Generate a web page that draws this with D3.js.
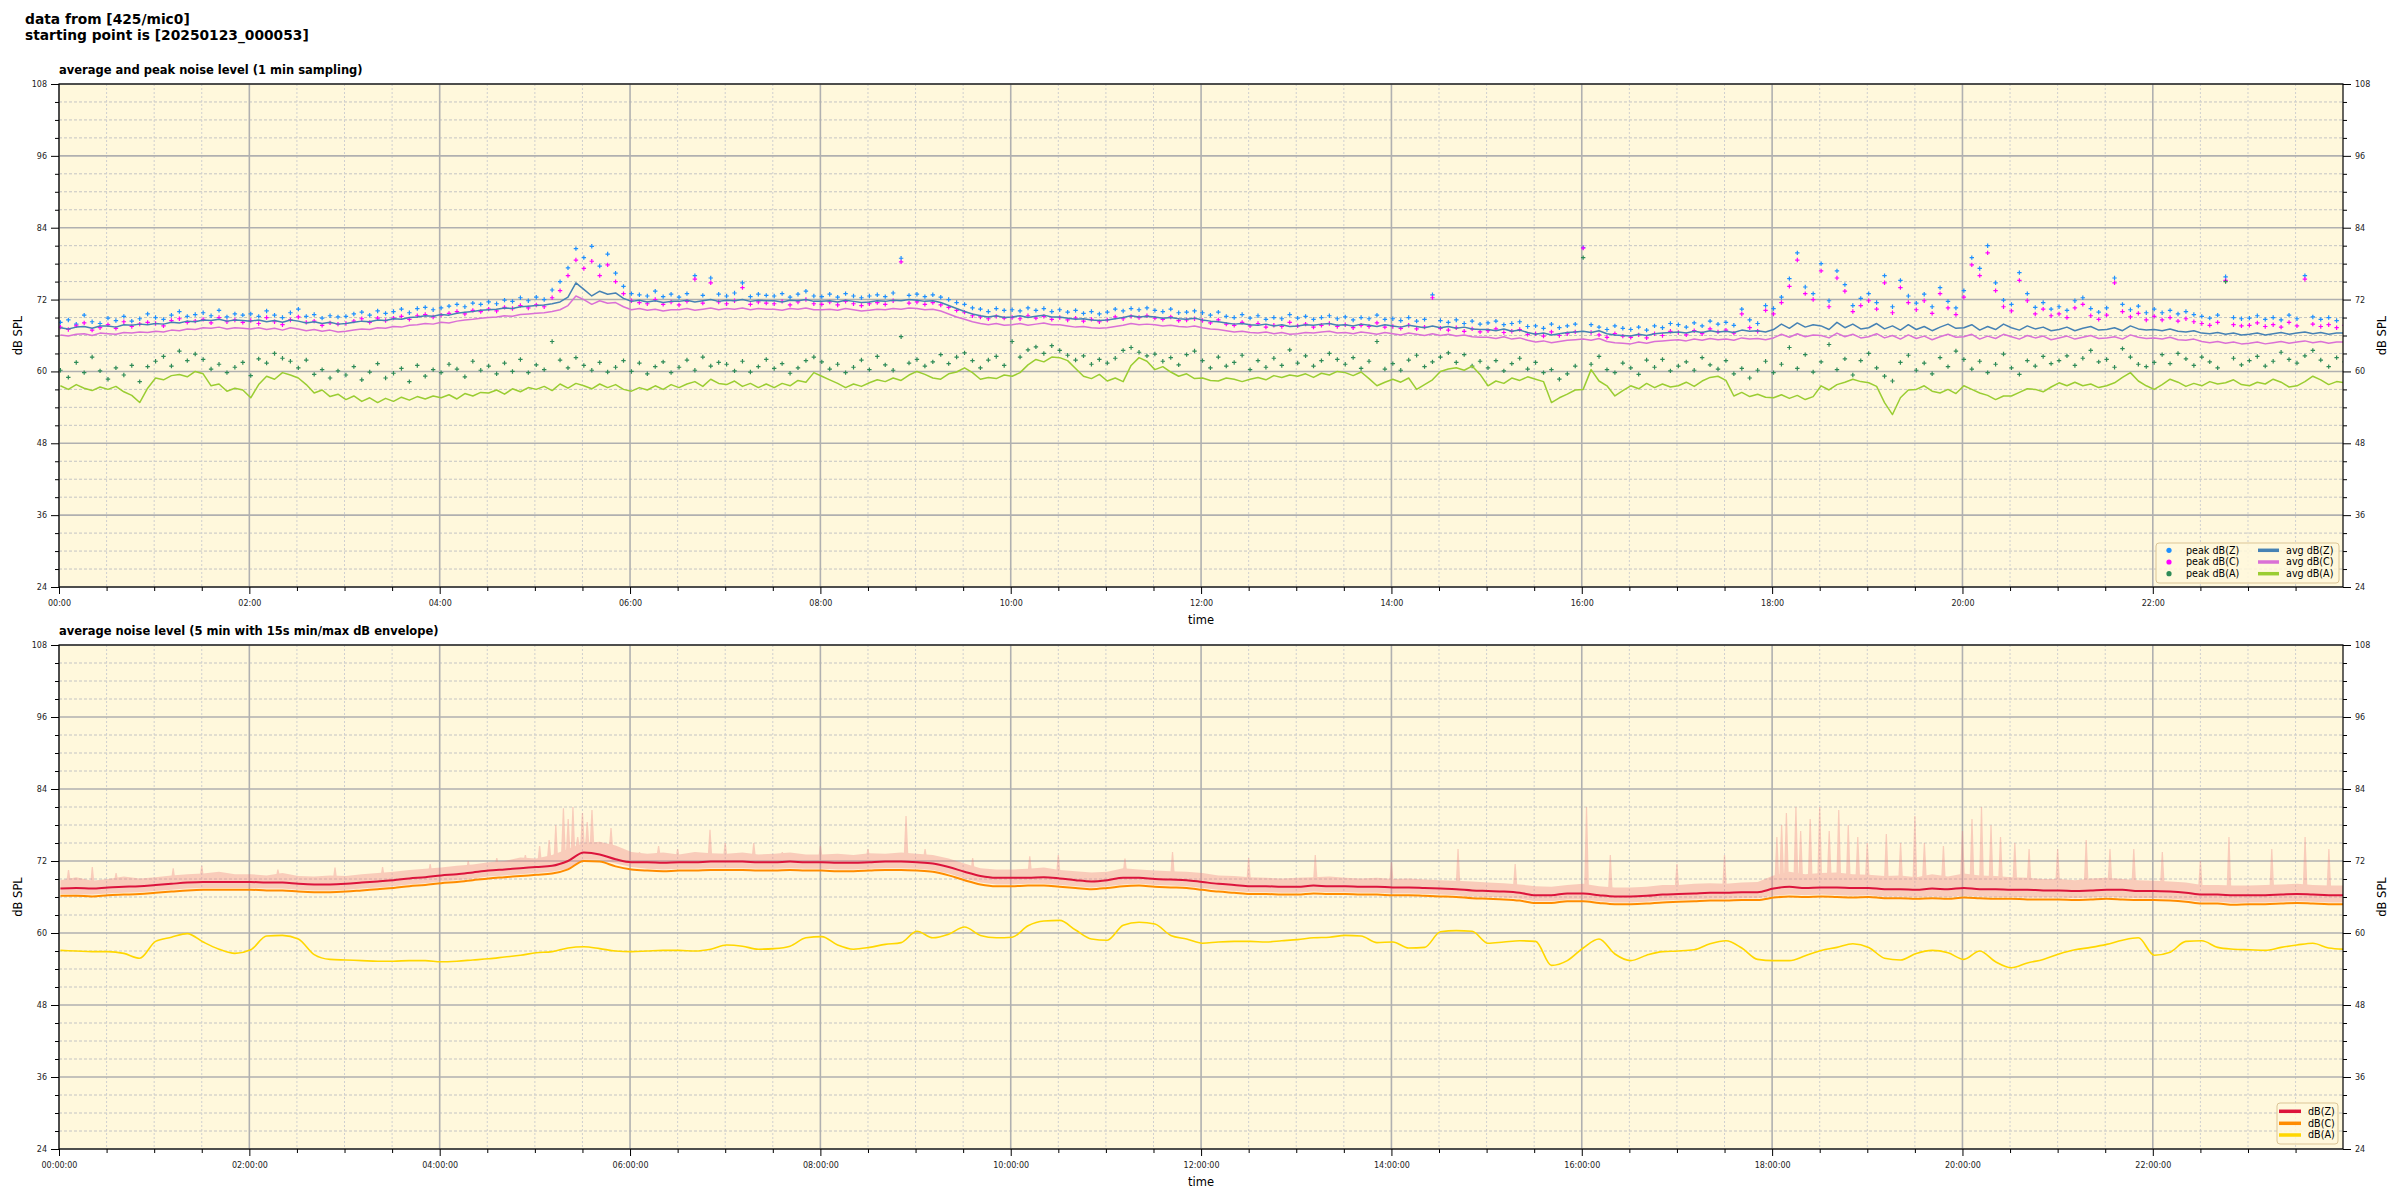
<!DOCTYPE html>
<html><head><meta charset="utf-8">
<script src="https://cdn.jsdelivr.net/npm/d3@7"></script>
<style>
body{margin:0;background:#fff}
svg{display:block}
text{font-family:"DejaVu Sans",sans-serif}
</style>
</head><body>
<svg id="c" width="2400" height="1200"></svg>
<script>
// ---------- DATA ----------
const suptitleLines = ["data from [425/mic0]", "starting point is [20250123_000053]"];
const topTitle = "average and peak noise level (1 min sampling)";
const botTitle = "average noise level (5 min with 15s min/max dB envelope)";
const yTicks = [24, 36, 48, 60, 72, 84, 96, 108];
const xTickMinutes = [0, 120, 240, 360, 480, 600, 720, 840, 960, 1080, 1200, 1320];
const topLegend = ["peak dB(Z)", "peak dB(C)", "peak dB(A)", "avg dB(Z)", "avg dB(C)", "avg dB(A)"];
const botLegend = ["dB(Z)", "dB(C)", "dB(A)"];
const sampleStartMin = 0.88;   // 00:00:53
const topStepMin = 5;          // top panel values every 5 minutes
const botStepMin = 10;         // bottom panel values every 10 minutes

// top panel: average levels (one value per 5 min, 00:00 .. 24:00)
const avgZ = [
67.3,67.1,67.4,67.5,67.2,67.6,67.6,67.4,67.8,67.7,67.9,67.8,
68.0,67.9,68.2,68.1,68.4,68.3,68.6,68.5,68.7,68.4,68.6,68.5,
68.4,68.6,68.3,68.5,68.2,68.6,68.4,68.1,68.3,68.0,68.2,67.9,
68.0,68.2,68.4,68.3,68.6,68.5,68.8,68.7,69.0,69.1,69.3,69.2,
69.5,69.4,69.7,69.9,70.0,70.2,70.3,70.4,70.6,70.5,70.8,70.9,
71.0,71.1,71.3,71.6,72.4,74.8,73.7,72.6,73.4,72.9,73.1,72.2,
71.7,71.9,71.6,71.8,71.5,71.7,71.7,71.9,71.6,71.8,72.0,71.7,
71.9,71.8,72.0,71.7,71.9,71.8,71.8,71.6,71.9,71.8,72.0,71.7,
71.7,71.8,71.6,71.9,71.7,71.5,71.6,71.8,71.7,71.9,71.8,72.0,
71.9,71.7,71.8,71.5,71.0,70.5,70.0,69.6,69.3,69.1,69.3,69.0,
69.1,69.3,69.0,69.2,69.4,69.1,69.1,68.9,68.7,68.8,68.6,68.5,
68.6,68.8,69.0,69.3,69.1,69.2,69.1,68.9,69.0,68.8,68.7,68.9,
68.6,68.4,68.3,68.1,67.9,68.0,67.8,67.7,67.9,67.6,67.8,67.5,
67.6,67.8,67.7,67.9,68.0,67.7,67.8,67.6,67.9,67.7,67.5,67.8,
67.6,67.4,67.7,67.5,67.3,67.6,67.3,67.5,67.2,67.4,67.1,67.0,
67.0,66.8,67.1,66.7,66.9,66.5,66.2,66.4,66.1,66.3,66.5,66.6,
66.7,66.5,66.8,66.3,66.1,66.0,65.9,66.2,66.0,66.3,66.4,66.5,
66.6,66.4,66.7,66.5,66.8,66.6,66.7,66.5,66.9,66.7,66.8,66.6,
67.0,67.9,67.2,68.1,67.4,67.8,67.6,67.0,68.2,67.3,67.9,67.1,
67.3,68.0,67.1,67.6,66.9,67.8,67.0,67.5,66.8,67.4,67.9,67.2,
67.3,67.8,66.9,67.5,67.0,67.9,67.3,66.9,67.6,67.1,67.4,66.8,
67.0,67.4,66.8,67.2,67.5,66.9,67.0,67.3,66.8,67.6,67.1,66.9,
67.0,66.8,67.1,66.7,66.6,66.8,66.4,66.3,66.5,66.2,66.4,66.1,
66.2,66.4,66.1,66.3,66.5,66.2,66.4,66.6,66.3,66.5,66.2,66.4,
66.4];
const avgC = [
66.1,65.9,66.2,66.3,66.0,66.4,66.3,66.2,66.5,66.4,66.6,66.5,
66.7,66.6,66.9,66.8,67.1,67.0,67.3,67.2,67.4,67.1,67.3,67.2,
67.1,67.3,67.0,67.2,66.9,67.3,67.1,66.8,67.0,66.7,66.9,66.6,
66.7,66.9,67.1,67.0,67.3,67.2,67.5,67.4,67.7,67.8,68.0,67.9,
68.2,68.1,68.4,68.6,68.7,68.9,69.0,69.1,69.3,69.2,69.5,69.6,
69.7,69.8,70.0,70.3,71.0,72.6,72.0,71.2,71.8,71.4,71.5,70.8,
70.3,70.5,70.2,70.4,70.1,70.3,70.3,70.5,70.2,70.4,70.6,70.3,
70.5,70.4,70.6,70.3,70.5,70.4,70.4,70.2,70.5,70.4,70.6,70.3,
70.3,70.4,70.2,70.5,70.3,70.1,70.2,70.4,70.3,70.5,70.4,70.6,
70.5,70.3,70.4,70.1,69.6,69.1,68.7,68.3,68.0,67.8,68.0,67.7,
67.8,68.0,67.7,67.9,68.1,67.8,67.8,67.6,67.4,67.5,67.3,67.2,
67.3,67.5,67.7,68.0,67.8,67.9,67.8,67.6,67.7,67.5,67.4,67.6,
67.3,67.1,67.0,66.8,66.6,66.7,66.5,66.4,66.6,66.3,66.5,66.2,
66.3,66.5,66.4,66.6,66.7,66.4,66.5,66.3,66.6,66.4,66.2,66.5,
66.3,66.1,66.4,66.2,66.0,66.3,66.0,66.2,65.9,66.1,65.8,65.7,
65.7,65.5,65.8,65.4,65.6,65.2,64.9,65.1,64.8,65.0,65.2,65.3,
65.4,65.2,65.5,65.0,64.8,64.7,64.6,64.9,64.7,65.0,65.1,65.2,
65.3,65.1,65.4,65.2,65.5,65.3,65.4,65.2,65.6,65.4,65.5,65.3,
65.6,66.2,65.7,66.3,65.8,66.1,66.0,65.6,66.4,65.8,66.2,65.6,
65.8,66.3,65.6,66.0,65.4,66.1,65.5,65.9,65.3,65.8,66.2,65.7,
65.8,66.2,65.4,65.9,65.5,66.2,65.8,65.4,66.0,65.6,65.9,65.3,
65.6,65.9,65.4,65.7,66.0,65.5,65.6,65.8,65.4,66.1,65.7,65.5,
65.6,65.4,65.7,65.3,65.2,65.4,65.0,64.8,65.0,64.7,64.9,64.6,
64.7,64.9,64.6,64.8,65.0,64.7,64.9,65.1,64.8,65.0,64.7,64.9,
64.9];
const avgA = [
57.6,57.0,57.8,57.2,56.8,57.4,57.0,57.5,56.6,56.0,54.8,57.2,
58.9,58.6,59.3,59.5,59.1,60.0,59.6,57.6,57.9,56.7,57.2,56.9,
55.6,57.8,59.2,58.7,59.8,59.4,58.9,57.8,56.4,56.9,55.8,56.2,
55.3,55.9,55.0,55.6,54.8,55.5,55.0,55.7,55.2,55.8,55.4,55.9,
55.6,56.1,55.4,56.3,55.9,56.5,56.4,56.9,56.2,57.1,56.6,57.3,
57.0,57.5,56.8,57.9,57.2,58.0,57.6,57.1,57.9,57.3,57.8,57.0,
56.7,57.3,56.9,57.6,57.0,57.8,57.3,57.9,58.3,57.5,58.7,58.0,
57.8,58.4,57.5,58.0,57.3,57.9,57.3,58.0,57.6,58.5,58.2,59.8,
59.2,58.6,58.0,57.3,57.9,57.5,58.1,58.6,58.3,58.9,58.5,59.4,
60.0,59.5,58.9,58.7,59.6,59.9,60.6,59.8,58.7,59.0,58.8,59.4,
59.2,59.8,61.1,62.0,61.6,62.4,62.3,61.8,60.5,59.2,58.8,59.5,
58.4,58.9,58.3,61.0,62.3,61.7,60.3,60.8,59.9,59.2,59.6,58.8,
58.9,58.5,58.4,58.9,58.7,58.3,58.7,59.0,58.6,59.3,59.0,59.4,
59.2,59.6,59.0,59.7,59.4,60.0,59.8,59.3,59.9,58.8,57.6,58.2,
58.7,58.2,58.9,57.0,57.8,58.6,60.0,60.4,60.6,60.2,60.9,59.5,
57.6,58.4,58.0,58.9,58.5,59.1,58.7,58.3,54.8,55.6,56.2,56.9,
57.0,60.3,58.4,57.6,55.9,56.8,57.6,57.1,58.0,57.3,57.9,57.4,
57.6,58.2,57.5,58.4,59.0,59.2,58.5,55.9,56.5,55.8,56.2,55.7,
55.6,56.1,55.5,56.0,55.3,55.8,57.6,56.9,57.8,58.2,58.7,58.3,
58.1,57.5,54.8,52.8,55.6,56.9,57.0,57.6,56.7,56.4,57.0,56.3,
57.6,57.0,56.4,56.0,55.3,55.9,55.9,56.5,57.1,57.0,56.6,57.4,
58.1,57.6,58.2,57.6,57.9,57.3,57.6,58.1,59.0,59.8,58.4,57.6,
57.0,57.8,58.7,58.2,57.5,58.0,57.6,58.3,57.9,58.1,58.6,57.8,
57.6,58.2,57.9,58.7,58.2,57.4,57.6,58.3,59.2,58.6,57.8,58.3,
58.1];
// top panel: peak levels (one value per 5 min)
const peakZ = [
68.2,68.6,67.9,69.4,68.3,68.0,68.9,68.5,69.2,68.4,68.8,69.6,
69.0,68.7,69.4,70.0,69.2,69.5,69.8,69.3,70.2,69.1,69.6,69.4,
69.6,69.2,70.1,69.4,69.0,69.8,70.4,69.2,69.5,68.9,69.3,69.1,
69.2,69.6,69.9,69.4,70.1,69.7,70.0,70.4,69.8,70.5,70.7,70.3,
70.6,70.9,71.2,70.8,71.4,71.2,71.6,71.3,71.9,71.7,72.3,71.8,
72.4,72.0,73.6,75.0,77.3,80.5,79.0,80.9,77.6,79.6,76.4,74.2,
73.0,72.8,72.6,73.4,72.5,72.9,72.4,73.0,76.0,72.7,75.6,72.9,
72.6,73.1,74.8,72.5,72.9,72.7,72.6,73.0,72.4,72.9,73.4,72.6,
72.5,72.9,72.4,73.0,72.6,72.3,72.6,72.8,72.5,73.1,78.9,72.7,
72.9,72.5,72.8,72.4,72.0,71.5,71.2,70.6,70.4,70.0,70.5,70.2,
70.3,70.1,70.6,70.2,70.5,70.0,70.3,69.9,70.2,69.7,70.0,69.6,
69.9,70.4,70.1,70.5,70.3,70.6,70.2,70.0,70.4,69.8,69.9,70.1,
69.8,69.4,69.9,69.2,69.0,69.5,68.9,69.3,68.7,69.0,68.8,69.5,
68.9,69.2,68.7,69.0,69.3,68.8,69.1,68.6,69.0,68.8,69.4,68.7,
68.8,68.5,69.0,68.4,68.7,72.8,68.5,68.2,68.6,68.0,68.4,67.9,
68.1,68.4,67.8,68.0,68.3,67.5,67.6,67.2,67.9,67.3,67.6,67.9,
80.7,67.8,67.4,67.0,67.6,67.2,67.0,67.4,66.9,67.6,67.3,68.0,
67.8,67.4,68.1,67.6,68.4,67.9,68.2,67.7,70.4,68.6,68.0,71.0,
70.5,72.4,75.5,79.8,74.1,73.0,78.0,71.8,76.8,74.5,71.0,72.2,
73.0,71.5,76.0,70.8,75.2,72.6,71.4,72.9,70.8,74.0,71.7,70.6,
73.5,79.0,77.2,81.0,74.8,71.9,71.2,76.5,73.0,70.7,71.5,70.4,
70.8,70.2,71.8,72.3,70.5,69.9,70.6,75.6,71.2,70.3,70.9,69.8,
70.4,69.8,70.2,69.6,70.0,69.5,69.2,68.9,69.4,75.8,69.0,68.8,
68.9,69.3,68.7,69.0,68.6,69.4,68.8,76.0,69.1,68.7,69.0,68.5,
68.9];
const peakC = [
67.4,67.0,67.6,68.1,66.9,67.3,67.8,67.2,68.3,67.5,67.9,68.2,
68.0,67.6,68.5,68.8,68.2,68.4,68.7,68.1,69.0,68.3,68.6,68.2,
68.5,68.0,69.0,68.3,67.8,68.6,69.1,68.2,68.4,67.7,68.1,67.9,
68.0,68.4,68.8,68.2,68.9,68.5,68.9,69.2,68.7,69.3,69.5,69.1,
69.4,69.7,70.0,69.6,70.2,70.0,70.4,70.1,70.7,70.5,71.0,70.6,
71.1,70.8,72.3,73.5,76.0,78.6,77.2,78.4,76.0,77.8,75.0,73.0,
71.8,71.5,71.3,72.0,71.2,71.6,71.1,71.7,75.4,71.4,74.8,71.6,
71.3,71.8,74.0,71.2,71.6,71.4,71.3,71.7,71.1,71.6,72.0,71.3,
71.2,71.6,71.1,71.7,71.3,71.0,71.3,71.5,71.2,71.8,78.3,71.4,
71.6,71.2,71.5,71.1,70.7,70.2,69.9,69.3,69.1,68.8,69.2,68.9,
69.0,68.8,69.3,68.9,69.2,68.7,69.0,68.6,68.9,68.4,68.7,68.3,
68.6,69.1,68.8,69.2,69.0,69.3,68.9,68.7,69.1,68.5,68.6,68.8,
68.5,68.1,68.6,67.9,67.7,68.2,67.6,68.0,67.4,67.7,67.5,68.2,
67.6,67.9,67.4,67.7,68.0,67.5,67.8,67.3,67.7,67.5,68.1,67.4,
67.5,67.2,67.7,67.1,67.4,72.3,67.2,66.9,67.3,66.7,67.1,66.6,
66.8,67.1,66.5,66.7,67.0,66.2,66.3,65.9,66.6,66.0,66.3,66.6,
80.6,66.5,66.1,65.7,66.3,65.9,65.7,66.1,65.6,66.3,66.0,66.7,
66.5,66.1,66.8,66.3,67.1,66.6,66.9,66.4,69.6,67.3,66.7,70.2,
69.6,71.5,74.2,78.6,73.0,72.0,76.8,70.8,75.6,73.4,70.0,71.0,
71.8,70.4,74.8,69.8,74.0,71.5,70.3,71.8,69.7,73.0,70.6,69.5,
72.4,77.8,76.0,79.8,73.5,70.8,70.1,75.2,71.8,69.6,70.4,69.3,
69.6,69.0,70.6,71.2,69.3,68.7,69.4,74.8,70.0,69.1,69.7,68.6,
69.2,68.6,69.0,68.4,68.8,68.3,68.0,67.7,68.2,75.2,67.8,67.6,
67.7,68.1,67.5,67.8,67.4,68.2,67.6,75.4,67.9,67.5,67.8,67.3,
67.7];
const peakA = [
60.2,59.0,61.5,59.8,62.4,60.1,58.7,60.6,59.4,61.0,58.3,60.8,
61.7,62.5,60.9,63.4,61.8,62.9,62.0,60.4,61.2,59.8,60.7,61.5,
59.3,62.1,61.4,63.0,62.2,61.7,60.6,61.9,59.5,60.3,58.9,60.1,
59.4,60.8,58.6,59.9,61.3,58.9,59.7,60.5,58.3,61.0,59.2,60.3,
59.8,61.2,60.4,59.1,61.7,60.2,60.9,59.6,61.4,60.0,62.0,59.8,
61.1,60.3,65.0,61.9,60.6,62.3,61.0,60.2,61.5,59.9,60.7,61.8,
60.0,61.4,59.6,60.8,61.6,59.8,60.7,61.9,60.2,62.4,60.9,61.5,
61.2,60.1,61.7,59.9,60.8,62.0,60.5,61.3,59.7,60.6,61.8,62.4,
61.6,60.4,61.2,59.8,60.7,61.9,60.3,62.5,61.1,60.2,65.8,61.4,
62.0,60.9,61.6,62.8,61.3,62.4,63.1,61.8,60.6,61.9,62.5,61.0,
65.0,62.4,63.6,64.1,63.0,64.3,63.5,62.7,61.9,62.6,61.2,62.0,
61.4,62.2,63.5,64.0,63.2,62.6,62.9,61.7,62.3,61.1,62.8,63.4,
61.8,60.6,62.4,60.9,61.5,62.7,60.3,61.8,60.7,62.2,61.0,63.6,
61.4,62.6,60.9,61.8,63.0,62.0,61.2,62.3,60.5,61.7,65.0,60.4,
61.3,60.2,61.9,62.7,60.8,61.6,62.4,63.1,61.5,62.8,60.9,61.7,
60.6,61.8,60.1,61.3,62.2,60.4,61.5,59.8,60.3,58.7,59.6,60.9,
79.0,61.2,62.5,60.3,59.8,61.4,60.6,59.5,61.9,60.7,62.0,60.1,
60.9,61.6,60.2,62.3,61.1,60.4,61.8,59.6,60.5,58.9,60.2,61.7,
59.8,61.2,64.0,60.5,62.8,59.9,61.6,64.5,60.3,62.1,59.4,61.8,
63.0,60.6,59.2,58.4,61.5,62.7,60.2,61.4,59.6,62.3,60.8,63.4,
62.0,60.4,61.7,59.8,61.2,62.9,60.6,59.5,61.8,60.9,62.5,61.3,
61.8,62.6,61.0,62.2,63.5,61.6,62.0,60.7,63.8,62.4,61.2,60.8,
61.5,62.8,61.3,63.0,62.1,61.0,62.4,61.6,60.6,75.0,62.2,61.1,
61.8,62.5,60.9,61.7,63.2,62.0,61.4,62.6,63.5,61.9,60.8,62.3,
61.6];

// bottom panel: 5-min averages (one value per 10 min)
const botZ = [
67.4,67.5,67.4,67.6,67.7,67.8, 68.0,68.2,68.4,68.5,68.5,68.5,
68.5,68.4,68.4,68.2,68.1,68.1, 68.2,68.4,68.6,68.8,69.1,69.3,
69.6,69.8,70.1,70.4,70.6,70.8, 71.0,71.2,72.0,73.4,73.1,72.3,
71.8,71.8,71.7,71.8,71.8,71.9, 71.9,71.9,71.8,71.8,71.9,71.8,
71.8,71.7,71.7,71.8,71.9,71.9, 71.8,71.6,71.0,70.2,69.5,69.2,
69.2,69.2,69.3,69.1,68.8,68.6, 68.8,69.2,69.2,69.0,68.9,68.8,
68.5,68.2,68.0,67.8,67.8,67.7, 67.7,67.9,67.8,67.8,67.7,67.7,
67.6,67.6,67.5,67.4,67.3,67.1, 67.0,66.9,66.7,66.3,66.3,66.6,
66.6,66.3,66.1,66.1,66.2,66.4, 66.5,66.6,66.7,66.7,66.8,66.8,
67.4,67.7,67.5,67.6,67.6,67.5, 67.5,67.3,67.3,67.2,67.4,67.3,
67.5,67.3,67.3,67.2,67.2,67.1, 67.1,67.0,67.1,67.2,67.2,67.0,
67.0,66.9,66.7,66.4,66.4,66.3, 66.3,66.3,66.4,66.5,66.4,66.3,
66.3];
const botC = [
66.2,66.2,66.1,66.3,66.4,66.5, 66.7,66.9,67.1,67.2,67.2,67.2,
67.2,67.1,67.1,66.9,66.8,66.8, 66.9,67.1,67.3,67.5,67.8,68.0,
68.3,68.5,68.8,69.1,69.3,69.5, 69.7,69.9,70.6,72.0,71.9,71.1,
70.6,70.4,70.3,70.4,70.4,70.5, 70.5,70.5,70.4,70.4,70.5,70.4,
70.4,70.3,70.3,70.4,70.5,70.5, 70.4,70.2,69.6,68.8,68.1,67.8,
67.8,67.9,67.9,67.7,67.5,67.3, 67.5,67.8,67.9,67.7,67.6,67.5,
67.2,66.9,66.7,66.5,66.5,66.4, 66.4,66.6,66.5,66.5,66.4,66.4,
66.3,66.3,66.2,66.1,66.0,65.8, 65.7,65.6,65.4,65.0,65.0,65.3,
65.3,65.0,64.8,64.8,64.9,65.1, 65.2,65.3,65.4,65.4,65.5,65.5,
65.9,66.1,66.0,66.1,66.0,65.9, 66.0,65.8,65.8,65.7,65.8,65.7,
65.9,65.8,65.7,65.7,65.6,65.6, 65.6,65.5,65.6,65.7,65.6,65.5,
65.5,65.4,65.2,64.9,64.9,64.7, 64.8,64.8,64.9,65.0,64.9,64.8,
64.8];
const botA = [
57.1,57.0,56.9,56.9,56.6,55.8, 58.6,59.3,59.9,58.5,57.3,56.6,
57.2,59.5,59.6,59.0,56.4,55.6, 55.5,55.4,55.3,55.3,55.4,55.4,
55.2,55.3,55.5,55.7,56.0,56.3, 56.7,56.9,57.5,57.7,57.4,57.0,
56.9,57.0,57.1,57.1,57.0,57.3, 58.0,57.8,57.3,57.4,57.8,59.2,
59.4,58.0,57.3,57.6,58.1,58.4, 60.3,59.2,59.8,61.0,59.6,59.2,
59.3,61.2,62.0,62.1,60.5,59.0, 58.8,61.3,61.8,61.5,59.6,59.0,
58.3,58.5,58.6,58.6,58.5,58.7, 58.9,59.2,59.3,59.6,59.5,58.4,
58.5,57.5,57.6,60.2,60.4,60.3, 58.3,58.5,58.7,58.6,54.6,55.4,
57.5,59.0,56.5,55.4,56.3,56.9, 57.0,57.2,58.2,58.7,57.5,55.6,
55.4,55.4,56.2,57.1,57.6,58.2, 57.6,55.8,55.5,56.6,57.1,56.7,
55.6,57.0,55.2,54.2,55.0,55.6, 56.5,57.2,57.6,58.1,58.8,59.2,
56.3,56.8,58.6,58.7,57.6,57.3, 57.2,57.1,57.6,58.0,58.3,57.5,
57.3];
// bottom panel: 15 s min / max envelope (one pair per 10 min)
const envLow = [
66.5,66.4,66.4,66.6,66.7,66.8, 67.0,67.2,67.4,67.5,67.5,67.5,
67.5,67.4,67.4,67.2,67.1,67.1, 67.2,67.4,67.6,67.8,68.1,68.3,
68.6,68.8,69.1,69.4,69.6,69.8, 70.0,70.2,70.7,72.2,72.2,71.6,
71.0,70.7,70.6,70.7,70.7,70.8, 70.8,70.8,70.7,70.7,70.8,70.7,
70.7,70.6,70.6,70.7,70.8,70.8, 70.7,70.5,69.9,69.1,68.4,68.1,
68.1,68.2,68.2,68.0,67.8,67.6, 67.8,68.1,68.2,68.0,67.9,67.8,
67.5,67.2,67.0,66.8,66.8,66.7, 66.7,66.9,66.8,66.8,66.7,66.7,
66.6,66.6,66.5,66.4,66.3,66.1, 66.0,65.9,65.7,65.3,65.3,65.6,
65.6,65.3,65.1,65.1,65.2,65.4, 65.5,65.6,65.7,65.7,65.8,65.8,
66.2,66.4,66.3,66.4,66.3,66.2, 66.3,66.1,66.1,66.0,66.1,66.0,
66.2,66.1,66.0,66.0,65.9,65.9, 65.9,65.8,65.9,66.0,65.9,65.8,
65.8,65.7,65.5,65.2,65.2,65.0, 65.1,65.1,65.2,65.3,65.2,65.1,
65.1];
const envHigh = [
68.8,69.3,68.7,69.0,69.4,69.1, 69.3,69.6,69.8,69.9,70.2,69.8,
69.8,69.6,70.0,69.5,69.4,69.6, 69.5,69.8,70.0,70.2,70.5,70.7,
70.9,71.2,71.4,71.8,72.0,72.6, 72.4,73.0,74.0,75.0,75.2,74.6,
73.5,73.2,73.4,73.1,73.5,73.3, 73.2,73.4,73.1,73.2,73.4,73.1,
73.1,73.2,73.0,73.3,73.2,73.4, 73.2,73.0,72.4,71.6,70.8,70.6,
70.6,70.7,70.9,70.5,70.3,70.1, 70.2,70.8,70.6,70.4,70.3,70.2,
70.0,69.6,69.5,69.3,69.2,69.1, 69.2,69.3,69.4,69.2,69.1,69.2,
69.0,69.1,68.9,68.8,68.7,68.6, 68.4,68.3,68.1,67.8,67.7,68.0,
68.2,67.8,67.6,67.6,67.7,68.0, 68.0,68.2,68.3,68.2,68.4,68.5,
69.6,70.2,69.8,70.0,70.1,69.8, 69.7,69.5,69.6,69.3,69.8,69.4,
69.9,69.6,69.5,69.3,69.2,69.0, 69.0,68.8,69.1,69.2,69.0,68.8,
68.7,68.6,68.4,68.0,68.0,67.9, 67.9,68.0,68.1,68.2,68.0,67.9,
67.9];
// single 15 s maxima standing out of the envelope: [hour, dB]
const envSpikes = [
[0.1,70.5],[0.35,71],[0.6,70],[1.2,70.8],[1.5,71.2],[2.3,70.6],[2.9,70.9],[3.4,71],[3.9,71.5],[4.3,72],
[4.6,72.5],[4.9,73],[5.05,74.5],[5.15,75.5],[5.22,78],[5.3,80.8],[5.35,79],[5.4,81],[5.45,76],[5.5,80],
[5.55,78.5],[5.6,80.5],[5.7,75],[5.8,77.5],[5.9,74],[6.1,73.5],[6.3,74.5],[6.5,74],[6.84,77.2],[7.0,75],
[7.3,75],[7.6,73.5],[8.0,74.5],[8.5,74],[8.9,79.5],[9.1,74],[9.6,72.5],[10.2,72.8],[10.5,73],[11.2,72.4],
[11.7,73.5],[12.5,72.5],[13.2,73],[14.0,71.8],[14.7,74],[15.3,71.5],[16.05,81],[16.3,73],[17.0,71.5],[17.5,73],
[18.05,76],[18.1,78],[18.15,80],[18.25,81],[18.3,77],[18.4,79],[18.5,81],[18.6,77],[18.7,80.5],[18.8,78],
[18.9,76],[19.0,75],[19.2,76.5],[19.35,75],[19.5,79.5],[19.6,75],[19.8,74.5],[20.0,77],[20.1,79],[20.2,81],
[20.3,78],[20.4,76],[20.55,75],[20.7,74],[21.0,74],[21.3,75.5],[21.55,74],[21.8,74],[22.1,73.5],[22.5,72],
[22.8,76],[23.25,74],[23.6,76],[23.85,74]];

// ---------- DRAWING ----------
const svg = d3.select('#c');
const L = 59, R = 2343;
const FONT = '"DejaVu Sans", sans-serif';
const x = d3.scaleLinear().domain([0, 1439.9]).range([L, R]);
const yMajor = yTicks;
const yMinor = d3.range(24, 108.01, 3).filter(v => v % 12 !== 0);
const xMinor = d3.range(30, 1439.9, 30).filter(v => v % 120 !== 0);
const pad2 = n => String(n).padStart(2, '0');
const fmtHM = m => pad2(Math.floor(m / 60)) + ':' + pad2(Math.round(m % 60));
const fmtHMS = m => fmtHM(m) + ':00';

svg.append('rect').attr('width', 2400).attr('height', 1200).attr('fill', '#fff');

suptitleLines.forEach((s, i) => svg.append('text').attr('x', 25).attr('y', 24 + i * 15.5)
  .attr('font-size', 13.8).attr('font-weight', 'bold').attr('fill', '#000').text(s));

function panel(y0, y1, title, fmt, id) {
  const g = svg.append('g');
  const y = d3.scaleLinear().domain([24, 108]).range([y1, y0]);
  g.append('clipPath').attr('id', id).append('rect').attr('x', L).attr('y', y0).attr('width', R - L).attr('height', y1 - y0);
  g.append('rect').attr('x', L).attr('y', y0).attr('width', R - L).attr('height', y1 - y0).attr('fill', '#fff8dc');
  const grid = g.append('g');
  yMinor.forEach(v => grid.append('line').attr('x1', L).attr('x2', R).attr('y1', y(v)).attr('y2', y(v))
    .attr('stroke', '#c4c4c4').attr('stroke-width', 1).attr('stroke-dasharray', '3,2'));
  xMinor.forEach(v => grid.append('line').attr('x1', x(v)).attr('x2', x(v)).attr('y1', y0).attr('y2', y1)
    .attr('stroke', '#cfcfcf').attr('stroke-width', 1).attr('stroke-dasharray', '2,2'));
  yMajor.forEach(v => grid.append('line').attr('x1', L).attr('x2', R).attr('y1', y(v)).attr('y2', y(v))
    .attr('stroke', '#b0b0b0').attr('stroke-width', 1.6));
  xTickMinutes.forEach(v => grid.append('line').attr('x1', x(v)).attr('x2', x(v)).attr('y1', y0).attr('y2', y1)
    .attr('stroke', '#b0b0b0').attr('stroke-width', 1.6));
  const data = g.append('g').attr('clip-path', `url(#${id})`);
  const axes = () => {
    g.append('rect').attr('x', L).attr('y', y0).attr('width', R - L).attr('height', y1 - y0)
      .attr('fill', 'none').attr('stroke', '#000').attr('stroke-width', 1.2);
    const style = a => { a.select('.domain').remove(); a.attr('font-size', 8).attr('font-family', FONT);
      a.selectAll('line').attr('stroke', '#000'); a.selectAll('text').attr('fill', '#222'); };
    style(g.append('g').attr('transform', `translate(${L},0)`).call(d3.axisLeft(y).tickValues(yMajor).tickSize(8).tickPadding(4).tickFormat(d3.format('d'))));
    style(g.append('g').attr('transform', `translate(${L},0)`).call(d3.axisLeft(y).tickValues(yMinor).tickSize(4).tickFormat('')));
    style(g.append('g').attr('transform', `translate(${R},0)`).call(d3.axisRight(y).tickValues(yMajor).tickSize(8).tickPadding(4).tickFormat(d3.format('d'))));
    style(g.append('g').attr('transform', `translate(${R},0)`).call(d3.axisRight(y).tickValues(yMinor).tickSize(4).tickFormat('')));
    style(g.append('g').attr('transform', `translate(0,${y1})`).call(d3.axisBottom(x).tickValues(xTickMinutes).tickSize(7).tickPadding(6).tickFormat(fmt)));
    style(g.append('g').attr('transform', `translate(0,${y1})`).call(d3.axisBottom(x).tickValues(xMinor).tickSize(4).tickFormat('')));
    g.append('text').attr('x', L).attr('y', y0 - 10).attr('font-size', 11.5).attr('font-weight', 'bold').text(title);
    g.append('text').attr('x', (L + R) / 2).attr('y', y1 + 37).attr('text-anchor', 'middle').attr('font-size', 11.5).text('time');
    const ym = (y0 + y1) / 2;
    g.append('text').attr('transform', `translate(22,${ym}) rotate(-90)`).attr('text-anchor', 'middle').attr('font-size', 11.5).text('dB SPL');
    g.append('text').attr('transform', `translate(2386,${ym}) rotate(-90)`).attr('text-anchor', 'middle').attr('font-size', 11.5).text('dB SPL');
  };
  return {g, y, data, axes};
}

// ---- top panel ----
const P1 = panel(84, 587, topTitle, fmtHM, 'clipTop');
const tTop = i => sampleStartMin + i * topStepMin;
function plus(sel, arr, color) {
  sel.append('g').selectAll('path').data(arr).enter().append('path')
    .attr('transform', (d, i) => `translate(${x(tTop(i))},${P1.y(d)})`)
    .attr('d', 'M-2.2,0H2.2M0,-2.2V2.2').attr('stroke', color).attr('stroke-width', 1.2).attr('fill', 'none');
}
plus(P1.data, peakZ, '#1e90ff');
plus(P1.data, peakC, '#ff00ff');
plus(P1.data, peakA, '#2e8b57');
const lineTop = d3.line().x((d, i) => x(tTop(i))).y(d => P1.y(d));
[[avgZ, '#4682b4'], [avgC, '#da70d6'], [avgA, '#9acd32']].forEach(([arr, c]) =>
  P1.data.append('path').attr('d', lineTop(arr)).attr('fill', 'none').attr('stroke', c).attr('stroke-width', 1.5).attr('stroke-linejoin', 'round'));
P1.axes();

// top legend
{
  const g = P1.g.append('g');
  g.append('rect').attr('x', 2156).attr('y', 543).attr('width', 183).attr('height', 40).attr('rx', 3)
    .attr('fill', '#fff8dc').attr('fill-opacity', 0.85).attr('stroke', '#dcc596').attr('stroke-width', 1);
  const rows = [550.3, 562, 573.7];
  const mk = ['#1e90ff', '#ff00ff', '#2e8b57'];
  const ln = ['#4682b4', '#da70d6', '#9acd32'];
  rows.forEach((ry, i) => {
    g.append('circle').attr('cx', 2169).attr('cy', ry).attr('r', 2.6).attr('fill', mk[i]);
    g.append('text').attr('x', 2186).attr('y', ry).attr('dy', '0.35em').attr('font-size', 9.6).text(topLegend[i]);
    g.append('line').attr('x1', 2258).attr('x2', 2279).attr('y1', ry).attr('y2', ry).attr('stroke', ln[i]).attr('stroke-width', 3.5);
    g.append('text').attr('x', 2286).attr('y', ry).attr('dy', '0.35em').attr('font-size', 9.6).text(topLegend[i + 3]);
  });
}

// ---- bottom panel ----
const P2 = panel(645, 1149, botTitle, fmtHMS, 'clipBot');
const tBot = i => sampleStartMin + i * botStepMin;
{
  const env = P2.data.append('g').attr('opacity', 0.36);
  const area = d3.area().x((d, i) => x(tBot(i))).y0((d, i) => P2.y(envLow[i])).y1(d => P2.y(d));
  env.append('path').attr('d', area(envHigh)).attr('fill', '#f08080');
  const hiAt = m => envHigh[Math.min(envHigh.length - 1, Math.round((m - sampleStartMin) / botStepMin))];
  envSpikes.forEach(([h, v]) => {
    const m = h * 60, cx = x(m), yb = P2.y(hiAt(m) - 1), yt = P2.y(v);
    env.append('path').attr('d', `M${cx - 2.4},${yb}L${cx - 0.6},${yt}L${cx + 0.6},${yt}L${cx + 2.4},${yb}Z`).attr('fill', '#f08080');
  });
  const lineBot = d3.line().x((d, i) => x(tBot(i))).y(d => P2.y(d)).curve(d3.curveMonotoneX);
  [[botZ, '#dc143c', 2], [botC, '#ff8c00', 2], [botA, '#ffd700', 1.6]].forEach(([arr, c, w]) =>
    P2.data.append('path').attr('d', lineBot(arr)).attr('fill', 'none').attr('stroke', c).attr('stroke-width', w).attr('stroke-linejoin', 'round'));
}
P2.axes();
{
  const g = P2.g.append('g');
  g.append('rect').attr('x', 2277).attr('y', 1103).attr('width', 61).attr('height', 41).attr('rx', 3)
    .attr('fill', '#fff8dc').attr('fill-opacity', 0.85).attr('stroke', '#dcc596').attr('stroke-width', 1);
  const rows = [1111.3, 1123.3, 1135];
  const cols = ['#dc143c', '#ff8c00', '#ffd700'];
  rows.forEach((ry, i) => {
    g.append('line').attr('x1', 2279).attr('x2', 2301).attr('y1', ry).attr('y2', ry).attr('stroke', cols[i]).attr('stroke-width', 3.5);
    g.append('text').attr('x', 2308).attr('y', ry).attr('dy', '0.35em').attr('font-size', 9.6).text(botLegend[i]);
  });
}
</script>
</body></html>
